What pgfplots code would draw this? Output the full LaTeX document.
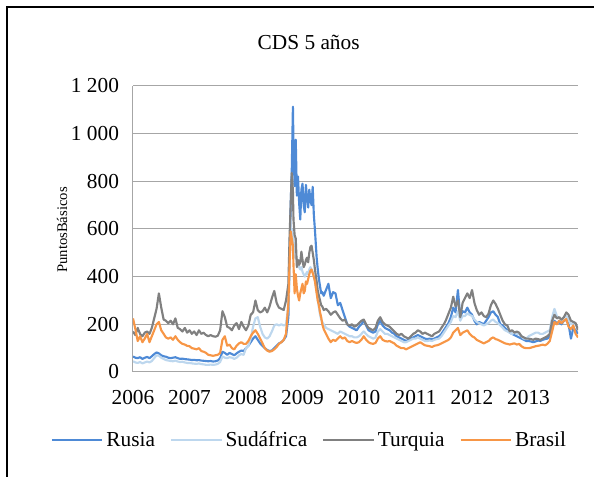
\documentclass[border=0pt]{standalone}
\usepackage{pgfplots}
\pgfplotsset{compat=1.18}
\usepackage{pgfplotstable}
\usepackage{fontspec}
\setmainfont{Liberation Serif}

\definecolor{rusia}{HTML}{4E8AD6}
\definecolor{sudafrica}{HTML}{BDD7EE}
\definecolor{turquia}{HTML}{808080}
\definecolor{brasil}{HTML}{F79646}
\definecolor{gridgray}{HTML}{A6A6A6}

% CDS 5 years, basis points (half-monthly readings, finer around the 2008 crisis)
\pgfplotstableread{
t rus sud tur bra
2006.000 65 45 170 225
2006.042 60 40 155 180
2006.083 58 38 185 130
2006.125 62 42 160 150
2006.167 55 36 150 125
2006.208 60 40 165 140
2006.250 63 44 170 160
2006.292 58 40 160 125
2006.333 66 46 185 150
2006.375 75 58 225 175
2006.417 82 70 265 200
2006.458 78 68 330 210
2006.500 70 60 270 175
2006.542 66 55 220 160
2006.583 64 50 215 145
2006.625 60 48 205 140
2006.667 58 46 215 145
2006.708 60 45 200 135
2006.750 62 48 225 150
2006.792 58 44 185 135
2006.833 55 42 180 125
2006.875 56 43 170 118
2006.917 54 40 185 115
2006.958 53 38 165 110
2007.000 52 38 175 108
2007.042 50 36 160 100
2007.083 51 35 170 98
2007.125 49 34 155 95
2007.167 50 36 175 100
2007.208 48 33 160 88
2007.250 47 32 165 85
2007.292 46 30 155 80
2007.333 45 30 150 72
2007.375 46 31 155 70
2007.417 44 30 150 68
2007.458 45 31 148 70
2007.500 48 34 152 72
2007.542 58 42 175 80
2007.583 85 65 255 135
2007.625 80 60 230 150
2007.667 72 58 190 110
2007.708 80 62 185 115
2007.750 75 60 175 100
2007.792 70 55 195 95
2007.833 78 60 205 110
2007.875 85 70 180 120
2007.917 90 75 210 125
2007.958 88 72 190 118
2008.000 100 100 175 118
2008.042 110 110 195 130
2008.083 125 140 240 150
2008.125 140 190 250 165
2008.167 150 225 300 175
2008.208 135 230 260 160
2008.250 120 190 250 140
2008.292 110 160 255 120
2008.333 100 145 270 100
2008.375 92 140 250 90
2008.417 88 150 275 85
2008.458 90 170 310 88
2008.500 100 195 340 95
2008.542 110 200 290 105
2008.583 120 195 270 118
2008.625 125 200 265 125
2008.667 135 195 260 135
2008.708 150 200 300 160
2008.750 230 280 370 290
2008.770 450 450 560 450
2008.790 700 550 700 590
2008.810 850 600 835 560
2008.830 1113 580 760 530
2008.840 950 560 640 450
2008.860 780 480 575 330
2008.880 975 500 560 410
2008.900 740 460 440 350
2008.920 820 470 470 320
2008.940 710 440 450 300
2008.960 640 430 460 330
2008.980 765 440 505 350
2009.000 790 420 470 370
2009.020 700 410 440 330
2009.040 670 400 450 340
2009.060 785 410 470 380
2009.080 730 420 480 370
2009.100 690 410 460 390
2009.120 765 430 500 410
2009.140 720 440 525 425
2009.160 700 430 530 430
2009.180 777 420 500 415
2009.200 660 400 470 400
2009.220 595 380 430 380
2009.250 480 340 380 330
2009.270 430 300 340 300
2009.290 390 270 320 280
2009.310 360 240 300 250
2009.330 330 220 280 230
2009.350 335 210 275 200
2009.375 320 200 260 180
2009.417 345 185 265 160
2009.458 370 180 255 140
2009.500 310 175 240 125
2009.542 335 170 250 135
2009.583 330 165 255 130
2009.625 280 160 240 140
2009.667 290 170 225 150
2009.708 260 165 215 140
2009.750 230 160 220 145
2009.792 200 155 200 130
2009.833 190 150 195 125
2009.875 185 150 200 130
2009.917 180 145 190 125
2009.958 175 145 195 122
2010.000 190 150 205 125
2010.042 200 160 215 135
2010.083 215 170 220 150
2010.125 195 160 200 135
2010.167 175 150 185 125
2010.208 170 145 180 120
2010.250 165 140 175 118
2010.292 170 145 185 122
2010.333 200 170 215 140
2010.375 215 180 230 150
2010.417 195 170 210 135
2010.458 185 160 200 130
2010.500 180 160 195 128
2010.542 175 155 190 130
2010.583 165 150 180 125
2010.625 160 145 170 120
2010.667 150 140 160 110
2010.708 145 135 155 105
2010.750 140 130 160 100
2010.792 135 125 150 100
2010.833 130 125 145 95
2010.875 135 130 140 100
2010.917 140 135 150 105
2010.958 145 140 160 110
2011.000 150 140 165 115
2011.042 155 145 175 120
2011.083 150 140 170 125
2011.125 145 135 160 118
2011.167 140 130 165 112
2011.208 138 130 160 110
2011.250 140 132 155 108
2011.292 138 130 150 105
2011.333 140 135 160 110
2011.375 145 138 165 112
2011.417 150 140 170 115
2011.458 160 150 185 120
2011.500 175 165 200 125
2011.542 190 180 220 130
2011.583 205 195 245 135
2011.625 230 210 270 145
2011.667 270 235 316 165
2011.708 250 230 275 175
2011.750 344 255 300 185
2011.792 230 215 230 155
2011.833 255 235 290 165
2011.875 250 235 310 170
2011.917 270 245 330 175
2011.958 250 240 310 160
2012.000 240 235 344 150
2012.042 215 220 290 145
2012.083 200 210 260 135
2012.125 210 205 240 130
2012.167 205 200 250 125
2012.208 200 195 235 120
2012.250 215 200 230 125
2012.292 230 205 245 130
2012.333 250 215 280 140
2012.375 255 220 300 145
2012.417 240 210 285 138
2012.458 230 205 265 135
2012.500 200 195 240 130
2012.542 195 185 215 125
2012.583 185 175 200 120
2012.625 175 170 195 118
2012.667 165 165 170 115
2012.708 160 160 175 118
2012.750 155 165 165 120
2012.792 150 160 170 115
2012.833 145 160 165 118
2012.875 140 150 150 108
2012.917 135 140 145 102
2012.958 130 140 140 100
2013.000 130 150 140 100
2013.042 128 155 138 102
2013.083 125 160 135 105
2013.125 128 165 140 108
2013.167 132 165 138 110
2013.208 130 160 135 112
2013.250 135 160 140 115
2013.292 138 165 145 112
2013.333 140 170 150 118
2013.375 150 175 160 130
2013.417 190 230 215 170
2013.458 215 265 240 210
2013.500 205 235 225 200
2013.542 210 225 230 215
2013.583 200 215 220 205
2013.625 215 230 230 215
2013.667 220 235 250 222
2013.708 200 220 240 190
2013.750 140 200 215 180
2013.792 185 205 210 195
2013.833 175 200 205 160
2013.875 160 185 175 145
}\cds

\begin{document}
\begin{tikzpicture}
\path[use as bounding box] (0,0) rectangle (445.5pt,357.75pt);
% frame of the chart area
\draw[line width=1.9pt] (5.25pt,0pt) -- (5.25pt,352.5pt) -- (445.5pt,352.5pt);
\node[font=\fontsize{16}{19}\selectfont] at (231.5pt,326.25pt) {CDS 5 años};
\node[rotate=90,font=\fontsize{11}{13}\selectfont] at (46.5pt,185.25pt) {PuntosBásicos};
\begin{axis}[
  at={(99.75pt,78.75pt)}, anchor=south west,
  scale only axis, width=333.75pt, height=214.5pt,
  xmin=2006, xmax=2013.875, ymin=0, ymax=1200,
  xtick={2006,2007,2008,2009,2010,2011,2012,2013},
  xticklabels={2006,2007,2008,2009,2010,2011,2012,2013},
  ytick={0,200,400,600,800,1000,1200},
  yticklabels={0,200,400,600,800,1 000,1 200},
  axis x line*=bottom, axis y line*=left,
  axis line style={gridgray,line width=0.75pt,-},
  ymajorgrids, major grid style={gridgray,line width=0.75pt},
  major tick length=0pt,
  tick label style={font=\fontsize{16}{19}\selectfont},
  yticklabel style={xshift=-7pt},
  xticklabel style={yshift=-10pt},
  legend columns=4,
  legend style={at={(0.397,-0.238)}, anchor=center, draw=none, fill=none,
    font=\fontsize{16}{19}\selectfont,
    /tikz/every even column/.append style={column sep=9pt}},
  legend image code/.code={\draw[#1,line width=1.9pt] (0pt,0pt) -- (38pt,0pt);},
  every axis plot/.append style={line width=1.6pt, line join=round},
]
\addplot[rusia, no markers] table[x=t, y=rus] {\cds};
\addlegendentry{Rusia}
\addplot[sudafrica, no markers] table[x=t, y=sud] {\cds};
\addlegendentry{Sudáfrica}
\addplot[turquia, no markers] table[x=t, y=tur] {\cds};
\addlegendentry{Turquia}
\addplot[brasil, no markers] table[x=t, y=bra] {\cds};
\addlegendentry{Brasil}
\end{axis}
\end{tikzpicture}
\end{document}
